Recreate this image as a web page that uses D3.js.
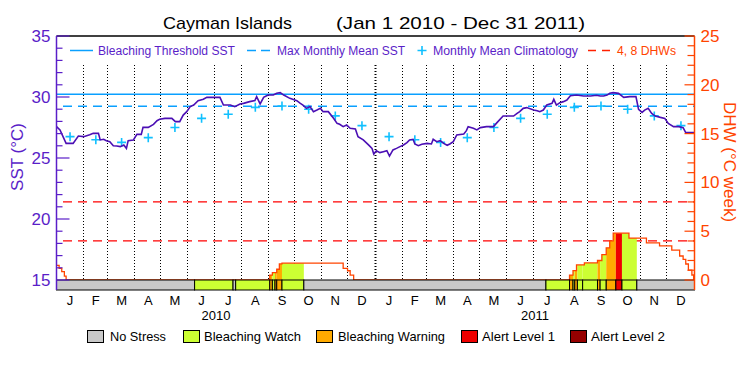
<!DOCTYPE html>
<html><head><meta charset="utf-8">
<script src="https://cdn.jsdelivr.net/npm/d3@7"></script>
<style>body{margin:0;background:#fff}svg{display:block;font-family:"Liberation Sans",Arial,sans-serif}</style>
</head><body><svg id="c" width="750" height="375"></svg>
<script>
// ---- data ----
const monthLabels = ["J","F","M","A","M","J","J","A","S","O","N","D"];
const yearLabels = ["2010","2011"];
// SST: day offset from Jan 1 2010, value (°C)
const sstDays = [0,4,11,19,25,31,38,42,48,50,54,57,61,65,69,73,77,80,82,88,92,97,99,105,111,115,118,124,132,136,141,145,149,153,157,162,168,172,179,187,191,199,204,210,214,221,227,229,233,237,242,248,252,256,260,267,275,279,282,286,290,294,298,302,305,311,317,321,324,328,332,336,342,345,351,357,361,363,366,370,374,378,381,385,389,393,397,401,404,408,410,414,418,424,429,431,435,439,443,447,450,454,458,466,469,471,477,481,485,492,500,504,511,519,523,527,530,534,538,546,550,553,557,561,567,569,572,576,580,584,588,595,603,611,618,622,626,630,633,637,643,649,656,663,666,670,673,677,681,685,691,696,700,706,712,717,720,730];
const sstValues = [27.57,27.30,26.20,26.20,26.80,26.75,26.90,27.02,27.02,26.48,26.53,26.42,26.34,26.01,25.98,25.93,26.07,25.79,26.42,26.48,26.94,26.94,27.51,27.51,27.76,28.06,28.17,28.25,28.25,27.98,27.98,28.52,28.80,29.21,29.34,29.70,29.81,29.97,29.97,29.97,29.34,29.34,29.21,29.43,29.48,29.62,29.70,30.03,29.43,29.97,30.16,30.16,30.30,30.36,30.16,29.89,29.70,29.48,29.34,29.07,29.21,28.80,28.93,29.07,28.80,28.80,28.25,27.84,27.76,27.57,27.70,27.43,27.38,26.75,26.48,26.07,25.79,25.33,25.60,25.44,25.52,25.60,25.16,25.66,25.79,25.93,26.07,26.26,26.48,26.53,26.15,26.01,26.12,26.20,26.15,26.53,26.34,26.42,26.20,26.04,26.15,26.34,26.89,26.97,27.24,27.57,27.43,27.30,27.49,27.57,27.57,27.90,28.44,28.44,28.44,28.66,28.80,29.07,29.13,28.93,28.88,28.80,28.93,29.34,29.48,29.81,29.34,29.54,29.62,29.75,30.11,30.16,30.08,30.08,30.14,30.08,30.08,30.16,30.30,30.36,30.30,29.97,30.03,30.03,28.99,28.74,28.93,29.07,28.66,28.44,28.33,28.25,27.84,27.57,27.57,27.49,27.08,27.08];
// Monthly mean climatology (°C), Jan..Dec
const climValues = [26.75,26.50,26.28,26.67,27.50,28.25,28.58,29.15,29.26,29.00,28.45,27.65];
const bleachThreshold = 30.22;
const maxMonthlyMean = 29.24;
const dhwRefLines = [4, 8];
// DHW step series (day offset, °C-weeks)
const dhwDays = [0,3,6,9,11,244,247,252,255,258,328,333,336,340,587,591,595,604,619,624,629,633,637,640,655,675,690,704,713,717,720,723,727,729,730];
const dhwValues = [1.5,1.2,0.85,0.4,0,0.5,0.75,1.1,1.65,1.72,1.2,0.95,0.5,0,0.5,0.96,1.54,1.75,2.0,2.6,3.3,4.0,4.8,4.8,4.3,3.8,3.5,3.07,2.46,2.12,1.64,1.02,0.51,0,0];
// Stress level segments: breaks (day offsets) and levels (0 none,1 watch,2 warning,3 alert1,4 alert2)
const stressBreaks = [0,158,202,205,244,247,250,252,258,283,560,587,591,593,596,602,619,622,629,640,647,664.5,730];
const stressLevels = [0,1,0,1,2,1,2,2,1,0,1,2,1,2,1,1,2,1,2,3,1,0];
const stressNames = ["No Stress","Bleaching Watch","Bleaching Warning","Alert Level 1","Alert Level 2"];
const stressColors = ["#c8c8c8","#ccff33","#ffaa00","#ee0000","#960000"];

// ---- drawing ----
const svg = d3.select("#c");
const t0 = new Date(Date.UTC(2010,0,1)), t1 = new Date(Date.UTC(2012,0,1));
const x = d3.scaleUtc().domain([t0,t1]).range([56.5,694.5]);
const dx = d => x(d3.utcDay.offset(t0, d));
const yS = d3.scaleLinear().domain([15,35]).range([280,36]);
const yD = d3.scaleLinear().domain([0,25]).range([280,36]);
const PUR = "#5a1ec8", LINE = "#4b0fb4", ORG = "#ff4400", BLU = "#0aa0ff", CYAN = "#10c0ff";

// title
svg.append("text").attr("x",163).attr("y",29).attr("font-size",17).attr("textLength",129).attr("lengthAdjust","spacingAndGlyphs").text("Cayman Islands");
svg.append("text").attr("x",336).attr("y",29).attr("font-size",17).attr("textLength",249).attr("lengthAdjust","spacingAndGlyphs").text("(Jan 1 2010 - Dec 31 2011)");

// month dotted lines
const monthStarts = d3.utcMonth.range(t0, t1);
svg.append("g").selectAll("line").data(monthStarts.slice(1)).join("line")
  .attr("x1",d=>Math.round(x(d))-0.5).attr("x2",d=>Math.round(x(d))-0.5).attr("y1",65).attr("y2",280)
  .attr("stroke","#000").attr("stroke-width",d=>d.getUTCMonth()===0?2:1).attr("stroke-dasharray","1,2");

// reference lines
svg.append("line").attr("x1",57).attr("x2",694).attr("y1",yS(bleachThreshold)).attr("y2",yS(bleachThreshold)).attr("stroke",BLU).attr("stroke-width",1.5);
svg.append("line").attr("x1",63).attr("x2",694).attr("y1",yS(maxMonthlyMean)).attr("y2",yS(maxMonthlyMean)).attr("stroke",BLU).attr("stroke-width",1.5).attr("stroke-dasharray","9,6");
svg.append("g").selectAll("line").data(dhwRefLines).join("line")
  .attr("x1",63).attr("x2",694).attr("y1",d=>yD(d)).attr("y2",d=>yD(d)).attr("stroke","#ff0000").attr("stroke-width",1.2).attr("stroke-dasharray","9,6");

// DHW fills by stress level
const dhwPts = dhwDays.map((d,i)=>[d,dhwValues[i]]);
const area = d3.area().x(d=>dx(d[0])).y0(280).y1(d=>yD(d[1])).curve(d3.curveStepAfter);
const defs = svg.append("defs");
stressLevels.forEach((lv,i)=>{
  if(lv===0) return;
  const id="cl"+i;
  defs.append("clipPath").attr("id",id).append("rect").attr("x",dx(stressBreaks[i])).attr("width",dx(stressBreaks[i+1])-dx(stressBreaks[i])).attr("y",0).attr("height",290);
  svg.append("path").datum(dhwPts).attr("d",area).attr("fill",stressColors[lv]).attr("clip-path",`url(#${id})`);
});
// DHW line
svg.append("path").datum(dhwPts).attr("d",d3.line().x(d=>dx(d[0])).y(d=>yD(d[1])).curve(d3.curveStepAfter)).attr("fill","none").attr("stroke",ORG).attr("stroke-width",1.3);

// climatology +
const climPts = monthStarts.map((m,i)=>({t:new Date((+m + +d3.utcMonth.offset(m,1))/2), v:climValues[i%12]}));
svg.append("g").selectAll("path").data(climPts).join("path")
  .attr("d",d=>{const cx=x(d.t),cy=yS(d.v);return `M${cx-4.5},${cy}H${cx+4.5}M${cx},${cy-4.5}V${cy+4.5}`;})
  .attr("stroke",CYAN).attr("stroke-width",1.6);

// SST line
svg.append("path").datum(sstDays.map((d,i)=>[d,sstValues[i]])).attr("d",d3.line().x(d=>dx(d[0])).y(d=>yS(d[1]))).attr("fill","none").attr("stroke",LINE).attr("stroke-width",1.6);

// stress bar
svg.append("g").selectAll("rect").data(stressLevels).join("rect")
  .attr("x",(d,i)=>dx(stressBreaks[i])).attr("width",(d,i)=>dx(stressBreaks[i+1])-dx(stressBreaks[i]))
  .attr("y",280).attr("height",10).attr("fill",d=>stressColors[d]).attr("stroke","#000").attr("stroke-width",1);

// frame top
svg.append("line").attr("x1",56.5).attr("x2",694.5).attr("y1",36).attr("y2",36).attr("stroke","#000").attr("stroke-width",1.5);

// left axis
const la = svg.append("g").attr("transform","translate(56.5,0)");
la.append("line").attr("y1",36).attr("y2",290).attr("stroke",PUR).attr("stroke-width",1.5);
la.selectAll(".t").data(d3.range(15,36)).join("line").attr("y1",d=>yS(d)).attr("y2",d=>yS(d)).attr("x1",0).attr("x2",d=>d%5===0?13:6).attr("stroke",PUR).attr("stroke-width",1.2);
la.selectAll("text").data([15,20,25,30,35]).join("text").attr("x",-6).attr("y",d=>yS(d)+6).attr("text-anchor","end").attr("font-size",17).attr("fill",PUR).text(d=>d);
svg.append("text").attr("transform","translate(23,157) rotate(-90)").attr("text-anchor","middle").attr("font-size",17).attr("fill",PUR).text("SST (°C)");

// right axis
const ra = svg.append("g").attr("transform","translate(694.5,0)");
ra.append("line").attr("y1",36).attr("y2",290).attr("stroke",ORG).attr("stroke-width",1.5);
ra.selectAll(".t").data(d3.range(0,26)).join("line").attr("y1",d=>yD(d)).attr("y2",d=>yD(d)).attr("x1",0).attr("x2",d=>d%5===0?-10:-7).attr("stroke",ORG).attr("stroke-width",1.2);
ra.selectAll("text").data([0,5,10,15,20,25]).join("text").attr("x",6).attr("y",d=>yD(d)+6).attr("font-size",17).attr("fill",ORG).text(d=>d);
svg.append("text").attr("transform","translate(724,162) rotate(90)").attr("text-anchor","middle").attr("font-size",17).attr("fill",ORG).text("DHW (°C week)");

// month labels
svg.append("g").selectAll("text").data(monthStarts).join("text")
  .attr("x",d=>(x(d)+x(d3.utcMonth.offset(d,1)))/2).attr("y",305).attr("text-anchor","middle").attr("font-size",13).text(d=>monthLabels[d.getUTCMonth()]);
svg.append("g").selectAll("text").data(yearLabels).join("text")
  .attr("x",(d,i)=>(x(d3.utcYear.offset(t0,i))+x(d3.utcYear.offset(t0,i+1)))/2).attr("y",320).attr("text-anchor","middle").attr("font-size",13).text(d=>d);

// top legend
const lg = svg.append("g").attr("font-size",12.5);
lg.append("line").attr("x1",70).attr("x2",93).attr("y1",50.5).attr("y2",50.5).attr("stroke",BLU).attr("stroke-width",1.5);
lg.append("text").attr("x",98).attr("y",55).attr("fill",PUR).attr("textLength",137).attr("lengthAdjust","spacingAndGlyphs").text("Bleaching Threshold SST");
lg.append("line").attr("x1",247).attr("x2",270).attr("y1",50.5).attr("y2",50.5).attr("stroke",BLU).attr("stroke-width",1.5).attr("stroke-dasharray","9,5");
lg.append("text").attr("x",277).attr("y",55).attr("fill",PUR).attr("textLength",128).attr("lengthAdjust","spacingAndGlyphs").text("Max Monthly Mean SST");
lg.append("path").attr("d","M417.5,50.5H426.5M422,46V55").attr("stroke",CYAN).attr("stroke-width",1.6);
lg.append("text").attr("x",433).attr("y",55).attr("fill",PUR).attr("textLength",145).attr("lengthAdjust","spacingAndGlyphs").text("Monthly Mean Climatology");
lg.append("line").attr("x1",588).attr("x2",610).attr("y1",50.5).attr("y2",50.5).attr("stroke","#ff2000").attr("stroke-width",1.5).attr("stroke-dasharray","8,6");
lg.append("text").attr("x",617).attr("y",55).attr("fill",ORG).attr("textLength",59).attr("lengthAdjust","spacingAndGlyphs").text("4, 8 DHWs");

// bottom legend
const bx = [87.5,183.5,316.5,461.5,570.5], tx = [110,204,338,482,591], tw = [56,97,107,73,74];
const bl = svg.append("g");
stressNames.forEach((n,i)=>{
  bl.append("rect").attr("x",bx[i]).attr("y",330.5).attr("width",16).attr("height",12).attr("fill",stressColors[i]).attr("stroke","#000").attr("stroke-width",1);
  bl.append("text").attr("x",tx[i]).attr("y",341).attr("font-size",13).attr("textLength",tw[i]).attr("lengthAdjust","spacingAndGlyphs").text(n);
});
</script></body></html>
